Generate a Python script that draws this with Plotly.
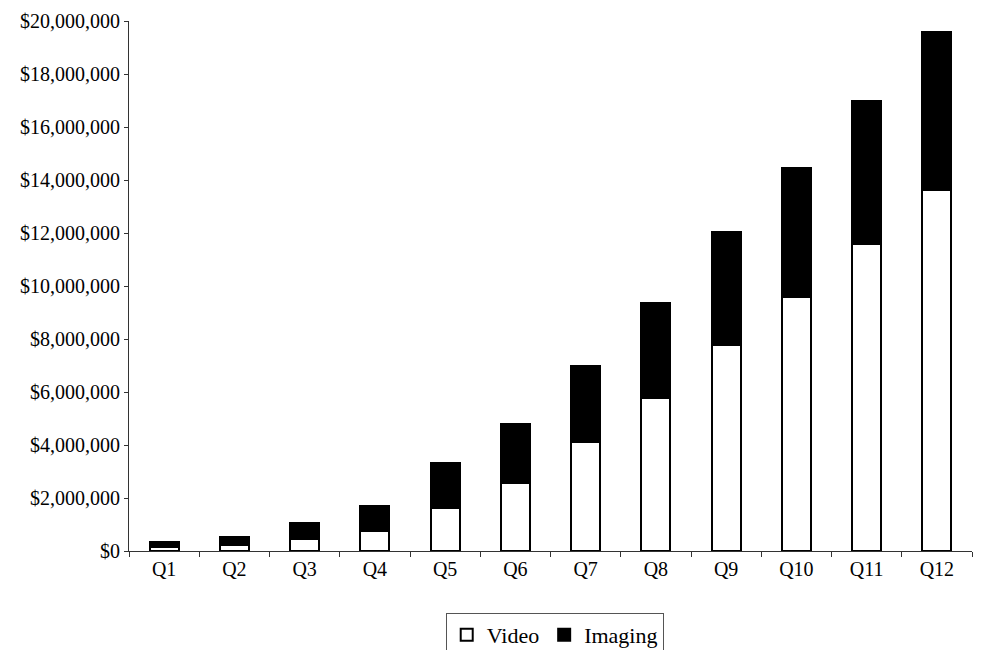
import plotly.graph_objects as go

quarters = ["Q1", "Q2", "Q3", "Q4", "Q5", "Q6", "Q7", "Q8", "Q9", "Q10", "Q11", "Q12"]
video = [150000, 230000, 450000, 760000, 1620000, 2560000, 4130000, 5790000, 7760000, 9600000, 11580000, 13630000]
total = [350000, 520000, 1050000, 1690000, 3310000, 4800000, 6980000, 9350000, 12050000, 14450000, 17000000, 19600000]
imaging = [t - v for t, v in zip(total, video)]

font_family = "Liberation Serif, Times New Roman, serif"

fig = go.Figure()
fig.add_trace(go.Bar(
    x=quarters, y=video, name="Video",
    marker=dict(color="white", line=dict(color="black", width=2)),
    width=0.41,
))
fig.add_trace(go.Bar(
    x=quarters, y=imaging, name="Imaging",
    marker=dict(color="black", line=dict(color="black", width=2)),
    width=0.41,
))

fig.update_layout(
    barmode="stack",
    width=967, height=642,
    margin=dict(l=121, r=3, t=13, b=99, autoexpand=False),
    paper_bgcolor="white", plot_bgcolor="white",
    font=dict(family=font_family, color="black", size=20),
    showlegend=True,
    legend=dict(
        orientation="h", x=0.505, xanchor="center", y=-0.117, yanchor="top",
        font=dict(size=22, family=font_family),
        bordercolor="#555", borderwidth=1,
        traceorder="normal", itemwidth=30,
    ),
    xaxis=dict(
        automargin=False,
        showline=True, linecolor="#333", linewidth=1,
        ticks="outside", tickson="boundaries", ticklen=5, tickcolor="#333",
        tickfont=dict(size=20, family=font_family),
        showgrid=False,
    ),
    yaxis=dict(
        automargin=False,
        ticklabeloverflow="allow",
        range=[0, 20000000], dtick=2000000,
        tickformat="$,.0f",
        showline=True, linecolor="#333", linewidth=1,
        ticks="outside", ticklen=4, tickcolor="#333",
        tickfont=dict(size=20, family=font_family),
        showgrid=False, zeroline=False,
    ),
)

fig.write_html("out.html")
